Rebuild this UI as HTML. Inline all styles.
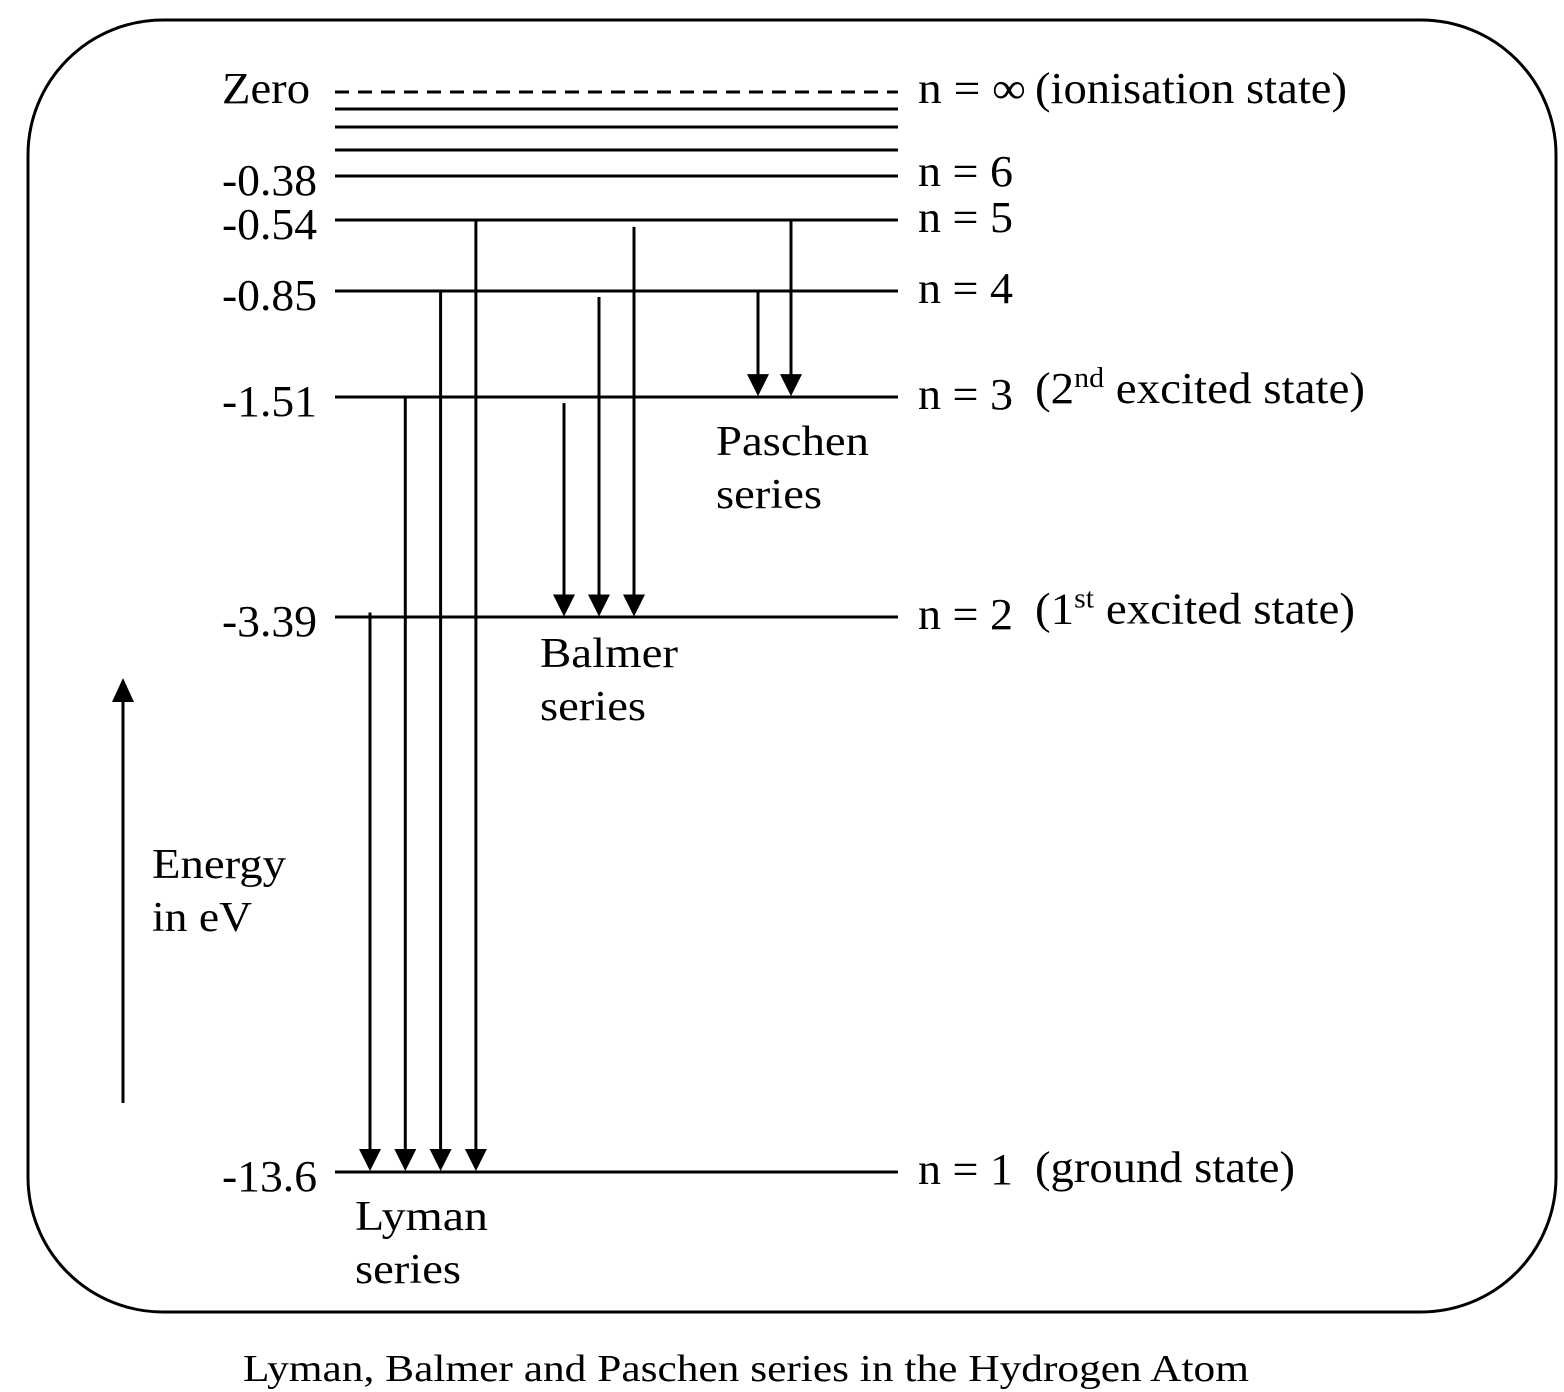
<!DOCTYPE html>
<html><head><meta charset="utf-8"><style>
html,body{margin:0;padding:0;background:#fff}
svg{display:block}
text{font-family:"Liberation Serif",serif;fill:#000}
</style></head><body>
<svg id="chart" width="1564" height="1392" viewBox="0 0 1564 1392" xmlns="http://www.w3.org/2000/svg">
<rect x="28" y="20" width="1528" height="1292" rx="135" ry="135" fill="none" stroke="#000" stroke-width="3"/>
<g id="levels"></g>
<g id="arrows"></g>
<g>
<line x1="123" y1="1103" x2="123" y2="700" stroke="#000" stroke-width="3"/>
<polygon points="112,702 134,702 123,678" fill="#000"/>
</g>
<text x="152" y="878" font-size="42" textLength="134" lengthAdjust="spacingAndGlyphs">Energy</text>
<text x="152" y="931" font-size="42" textLength="100" lengthAdjust="spacingAndGlyphs">in eV</text>
<text x="716" y="455" font-size="42" textLength="153" lengthAdjust="spacingAndGlyphs">Paschen</text>
<text x="716" y="508" font-size="42" textLength="106" lengthAdjust="spacingAndGlyphs">series</text>
<text x="540" y="667" font-size="42" textLength="138" lengthAdjust="spacingAndGlyphs">Balmer</text>
<text x="540" y="720" font-size="42" textLength="106" lengthAdjust="spacingAndGlyphs">series</text>
<text x="355" y="1230" font-size="42" textLength="133" lengthAdjust="spacingAndGlyphs">Lyman</text>
<text x="355" y="1283" font-size="42" textLength="106" lengthAdjust="spacingAndGlyphs">series</text>
<text x="243" y="1381" font-size="38" textLength="1006" lengthAdjust="spacingAndGlyphs">Lyman, Balmer and Paschen series in the Hydrogen Atom</text>
</svg>
<script>
const levelN = [Infinity, 9, 8, 7, 6, 5, 4, 3, 2, 1];
const levelEnergy = [0, -0.17, -0.21, -0.28, -0.38, -0.54, -0.85, -1.51, -3.39, -13.6];
const energyTickLabels = ["Zero", "", "", "", "-0.38", "-0.54", "-0.85", "-1.51", "-3.39", "-13.6"];
const levelRightLabels = ["n = \u221E", "", "", "", "n = 6", "n = 5", "n = 4", "n = 3", "n = 2", "n = 1"];
const levelStateLabels = ["(ionisation state)", "", "", "", "", "", "", "", "", "(ground state)"];
const lymanFrom = [2, 3, 4, 5];
const balmerFrom = [3, 4, 5];
const paschenFrom = [4, 5];

const anchorE = [0, -0.17, -0.21, -0.28, -0.38, -0.54, -0.85, -1.51, -3.39, -13.6];
const anchorY = [92, 109, 127, 150, 176, 220, 291, 397, 617, 1172];
function yScale(e){
  for(let i=0;i<anchorE.length-1;i++){
    const a=anchorE[i], b=anchorE[i+1];
    if(e<=a && e>=b){ return anchorY[i]+(e-a)/(b-a)*(anchorY[i+1]-anchorY[i]); }
  }
  return e>0?anchorY[0]:anchorY[anchorY.length-1];
}
function energyOf(n){ return -13.6/(n*n); }
const NS="http://www.w3.org/2000/svg";
const L=document.getElementById('levels'), A=document.getElementById('arrows');
const X0=335, X1=898;
function txt(x,y,s,len){
  const t=document.createElementNS(NS,'text');
  t.setAttribute('x',x);t.setAttribute('y',y);t.setAttribute('font-size','44');
  if(len){t.setAttribute('textLength',len);t.setAttribute('lengthAdjust','spacingAndGlyphs');}
  t.textContent=s;
  L.appendChild(t);
  return t;
}
levelEnergy.forEach((e,i)=>{
  const y=yScale(e);
  const ln=document.createElementNS(NS,'line');
  ln.setAttribute('x1',X0);ln.setAttribute('x2',X1);ln.setAttribute('y1',y);ln.setAttribute('y2',y);
  ln.setAttribute('stroke','#000');ln.setAttribute('stroke-width','3');
  if(levelN[i]===Infinity) ln.setAttribute('stroke-dasharray','14,9');
  
  
  L.appendChild(ln);
  if(energyTickLabels[i]){
    const t=txt(222,y+(i===0?11:19),energyTickLabels[i],energyTickLabels[i]==="Zero"?88:energyTickLabels[i].length*19);
    
    
  }
  if(levelRightLabels[i]){
    const t=txt(918,y+(i===0?11:(levelN[i]===6?10:12)),levelRightLabels[i],levelN[i]===Infinity?108:95);
    
    
  }
  if(levelStateLabels[i]){
    const t=txt(1035,y+(i===0?11:10),levelStateLabels[i],levelN[i]===1?260:312);
    
    
  }
});
[[3,"(2","nd"," excited state)",330],[2,"(1","st"," excited state)",320]].forEach(d=>{
  const y=yScale(energyOf(d[0]));
  const t=document.createElementNS(NS,'text');
  t.setAttribute('x',1035);t.setAttribute('y',y+6);t.setAttribute('font-size','44');
  t.setAttribute('textLength',d[4]);t.setAttribute('lengthAdjust','spacingAndGlyphs');
  t.innerHTML='<tspan>'+d[1]+'</tspan><tspan font-size="28" dy="-16">'+d[2]+'</tspan><tspan dy="16">'+d[3]+'</tspan>';
  
  
  L.appendChild(t);
});
function arrow(x,n1,n2,off){
  const y1=yScale(energyOf(n1))+off, y2=yScale(energyOf(n2));
  const g=document.createElementNS(NS,'g');
  
  
  g.innerHTML='<line x1="'+x+'" x2="'+x+'" y1="'+y1+'" y2="'+(y2-20)+'" stroke="#000" stroke-width="3"/>'+
    '<polygon points="'+(x-11)+','+(y2-23)+' '+(x+11)+','+(y2-23)+' '+x+','+(y2-1)+'" fill="#000"/>';
  A.appendChild(g);
}
lymanFrom.forEach((n,i)=>arrow(370+i*35.3,n,1,n===2?-5:0));
balmerFrom.forEach((n,i)=>arrow(564+i*35,n,2,6));
paschenFrom.forEach((n,i)=>arrow(758+i*33,n,3,0));
</script>
</body></html>
